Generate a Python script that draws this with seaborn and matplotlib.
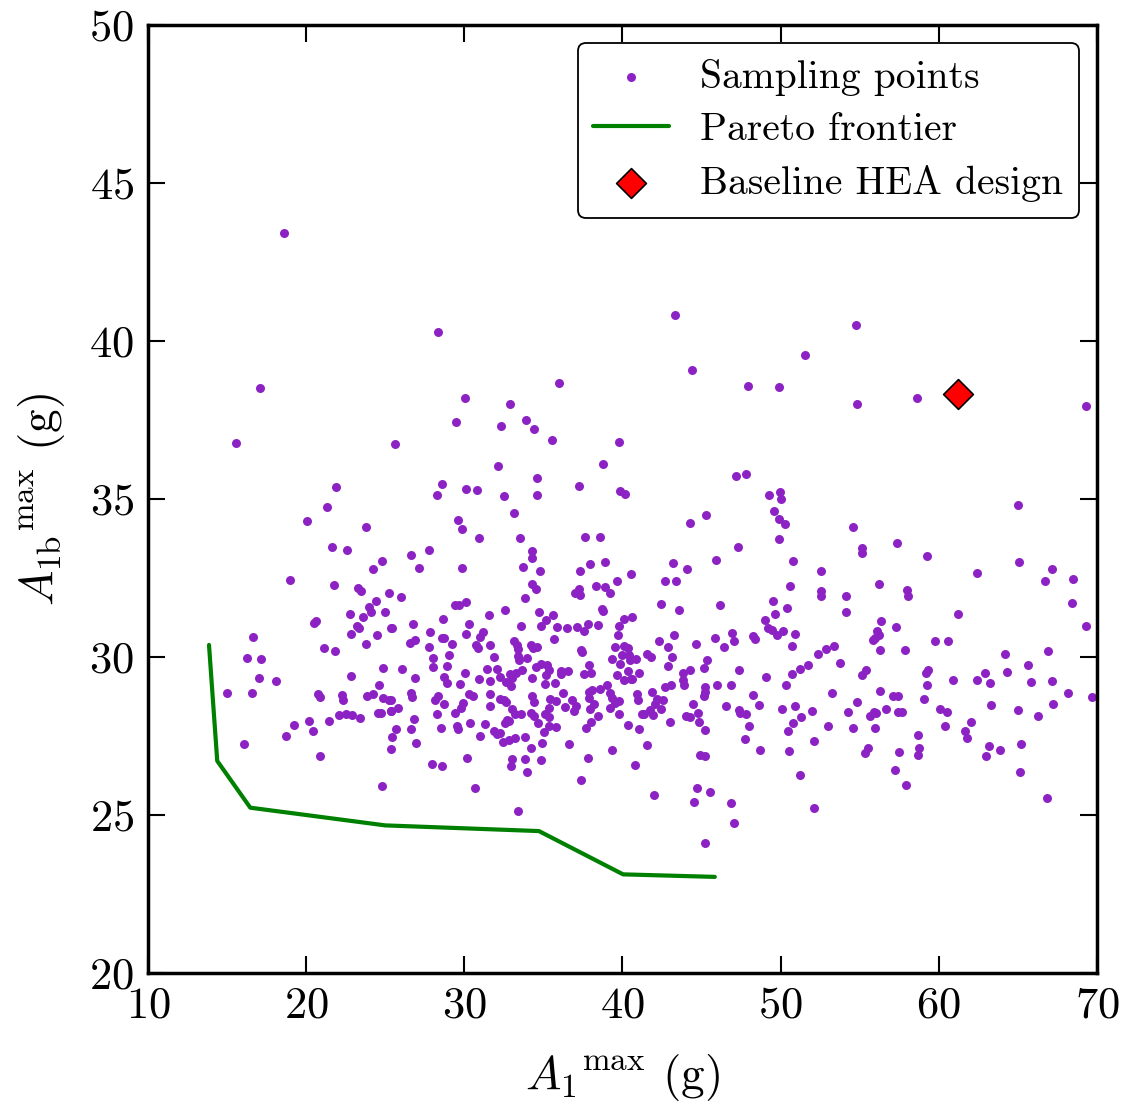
import numpy as np
import matplotlib
matplotlib.use("Agg")
import matplotlib.pyplot as plt
import seaborn as sns

sample_points = [
    (18.6, 43.42), (28.33, 40.28), (43.31, 40.82), (54.75, 40.5), (51.53, 39.56), (44.39, 39.08),
    (17.08, 38.5), (35.98, 38.67), (47.93, 38.58), (49.89, 38.54), (30.04, 38.2), (58.6, 38.2),
    (69.29, 37.94), (54.82, 38.0), (32.88, 38.0),
    (15.56, 36.76), (21.86, 35.38), (21.34, 34.75), (20.03, 34.29), (23.8, 34.12), (21.61, 33.47),
    (22.56, 33.39), (24.79, 33.05), (24.2, 32.77), (18.98, 32.45), (21.74, 32.27), (23.27, 32.18), (23.5, 32.1),
    (29.5, 37.44), (32.33, 37.31), (33.9, 37.5), (34.42, 37.2), (35.56, 36.88), (39.77, 36.81), (25.61, 36.73),
    (32.12, 36.03), (38.74, 36.1), (34.6, 35.66), (28.56, 35.46), (28.27, 35.11), (30.08, 35.3), (30.82, 35.27),
    (32.52, 35.1), (34.58, 35.13), (37.26, 35.41), (39.87, 35.26), (40.19, 35.17), (33.17, 34.55), (29.61, 34.34),
    (29.87, 34.06), (30.96, 33.75), (33.55, 33.78), (37.66, 33.81), (38.59, 33.81), (27.74, 33.4), (26.65, 33.23),
    (27.13, 32.8), (29.87, 32.8), (34.3, 33.36), (34.27, 33.14), (33.74, 32.86), (34.81, 32.73), (34.3, 32.32),
    (34.53, 32.15), (37.32, 32.72), (37.94, 32.94), (38.91, 33.02), (40.55, 32.64), (39.65, 32.39), (38.32, 32.26),
    (38.89, 32.22), (37.26, 32.15),
    (47.19, 35.72), (47.8, 35.78), (49.29, 35.14), (49.95, 35.22), (50.0, 34.99), (49.59, 34.62), (49.9, 34.38),
    (50.25, 34.21), (49.9, 33.74), (44.28, 34.23), (45.29, 34.5), (47.31, 33.47), (45.94, 33.07), (43.19, 32.98),
    (44.05, 32.77), (42.66, 32.41), (43.37, 32.39), (50.77, 33.03), (50.62, 32.23), (52.58, 32.73), (52.58, 32.1),
    (54.6, 34.1), (55.15, 33.44), (55.13, 33.28),
    (65.01, 34.81), (57.34, 33.6), (59.26, 33.21), (62.42, 32.67), (65.07, 32.99), (67.14, 32.77), (66.72, 32.39),
    (68.49, 32.46), (56.25, 32.32), (57.98, 32.12),
    (25.21, 32.01), (24.41, 31.77), (23.95, 31.58), (24.1, 31.41), (24.98, 31.41), (22.79, 31.35), (23.59, 31.26),
    (20.47, 31.09), (20.64, 31.15), (23.23, 30.98), (23.34, 30.91), (25.36, 30.91), (22.83, 30.74), (24.48, 30.68),
    (16.64, 30.64), (23.76, 30.41), (21.1, 30.28), (21.84, 30.18), (16.24, 29.97), (17.14, 29.93), (24.83, 29.65),
    (17.04, 29.34), (18.09, 29.24), (22.83, 29.39), (24.6, 29.1), (14.97, 28.85), (16.55, 28.87), (20.76, 28.83),
    (20.85, 28.73), (22.26, 28.81), (22.31, 28.64), (23.88, 28.78), (24.24, 28.83), (24.83, 28.7), (25.27, 28.63),
    (22.11, 28.15), (22.49, 28.19), (22.9, 28.15), (23.42, 28.07), (24.54, 28.22), (24.71, 28.22), (25.36, 28.29),
    (20.2, 27.98), (21.44, 27.96), (19.21, 27.85),
    (18.7, 27.5), (20.43, 27.65), (16.05, 27.25), (20.85, 26.87), (24.81, 25.93), (25.44, 27.46), (25.36, 27.08),
    (25.66, 27.72), (26.65, 27.71), (26.92, 27.29), (28.5, 27.75), (29.53, 27.82), (29.61, 27.73), (30.33, 27.91),
    (31.34, 27.88), (31.0, 27.51), (31.89, 27.67), (32.06, 27.55), (32.27, 27.6), (32.59, 27.9), (32.84, 27.98),
    (32.46, 27.32), (32.82, 27.36), (33.22, 27.43), (33.83, 27.47), (34.63, 27.91), (35.36, 27.82), (35.77, 27.78),
    (35.04, 27.63), (34.9, 27.29), (34.21, 27.11), (30.18, 26.8), (27.99, 26.62), (28.56, 26.55), (33.04, 26.77),
    (32.98, 26.55), (33.87, 26.78), (33.97, 26.37), (34.88, 26.75), (30.69, 25.84), (33.4, 25.12), (36.65, 27.26),
    (37.72, 27.74), (38.04, 27.95), (37.83, 26.8), (37.41, 26.11), (39.31, 27.07), (40.38, 27.86), (40.78, 26.58),
    (41.03, 27.72), (43.0, 27.93), (44.87, 27.94), (45.19, 27.68), (41.56, 27.2), (44.89, 26.89), (45.25, 26.87),
    (44.7, 25.85), (45.54, 25.72), (44.53, 25.4), (46.89, 25.39), (47.06, 24.74), (45.19, 24.1), (41.98, 25.62),
    (47.99, 27.83), (47.74, 27.39), (48.71, 27.06), (50.49, 27.65), (50.81, 27.91), (50.53, 27.03), (52.13, 27.34),
    (51.23, 26.25), (52.11, 25.23), (53.02, 27.82), (54.56, 27.75), (55.51, 27.11), (55.34, 26.96), (55.95, 27.75),
    (57.47, 26.98), (58.71, 27.52), (58.75, 27.13), (58.71, 26.9), (57.24, 26.41), (57.91, 25.94), (60.38, 27.82),
    (62.04, 27.93), (61.66, 27.66), (61.77, 27.45), (63.17, 27.18), (62.97, 26.85), (63.88, 27.06), (65.2, 27.26),
    (65.16, 26.35), (66.87, 25.53),
    (26.02, 31.9), (37.01, 32.02), (37.29, 31.96), (39.23, 32.02), (33.81, 31.86), (29.41, 31.64), (29.66, 31.63),
    (30.1, 31.75), (32.57, 31.5), (28.67, 31.21), (31.58, 31.33), (34.7, 31.43), (35.18, 31.16), (35.58, 31.33),
    (38.72, 31.52), (38.76, 31.45), (40.07, 31.21), (40.58, 31.28), (26.77, 31.03), (25.45, 30.91), (30.27, 31.04),
    (33.58, 30.98), (34.82, 30.97), (35.88, 30.96), (36.51, 30.91), (37.14, 30.96), (37.81, 31.04), (37.58, 30.82),
    (38.45, 31.01), (39.8, 30.99), (27.83, 30.79), (28.57, 30.61), (28.73, 30.59), (30.08, 30.72), (31.01, 30.62),
    (31.16, 30.79), (26.56, 30.43), (26.88, 30.53), (29.2, 30.4), (27.76, 30.31), (30.75, 30.37), (30.84, 30.27),
    (31.62, 30.37), (33.14, 30.52), (33.31, 30.38), (33.39, 30.24), (34.23, 30.38), (34.36, 30.27), (34.57, 30.32),
    (35.69, 30.57), (37.35, 30.22), (37.46, 30.17), (39.73, 30.7), (39.54, 30.31), (40.11, 30.34), (40.34, 30.27),
    (28.04, 29.98), (29.03, 30.07), (31.87, 30.01), (33.41, 30.03), (33.43, 29.9), (33.94, 29.96), (39.37, 29.94),
    (39.96, 30.05), (40.39, 30.07), (40.45, 29.9), (26.08, 29.63), (28.02, 29.67), (28.88, 29.72), (31.41, 29.61),
    (32.04, 29.62), (34.53, 29.68), (34.88, 29.79), (35.26, 29.73), (37.88, 29.75), (39.82, 29.78), (28.71, 29.37),
    (28.9, 29.19), (30.02, 29.48), (30.9, 29.3), (31.62, 29.23), (32.25, 29.37), (32.91, 29.46), (33.03, 29.33),
    (33.3, 29.5), (33.62, 29.58), (32.63, 29.22), (32.93, 29.08), (34.3, 29.33), (35.16, 29.44), (35.37, 29.59),
    (35.12, 29.14), (35.73, 29.19), (36.09, 29.57), (36.13, 29.46), (36.55, 29.54), (37.54, 29.45), (38.03, 29.5),
    (39.63, 29.43), (40.32, 29.54), (40.11, 29.27), (40.55, 29.29), (26.9, 29.35), (29.74, 29.14), (39.0, 29.12),
    (26.6, 28.85), (26.71, 28.72), (28.31, 28.78), (28.16, 28.63), (28.71, 28.5), (30.29, 28.82), (30.54, 28.78),
    (29.93, 28.54), (31.62, 28.83), (31.62, 28.45), (32.27, 28.68), (32.52, 28.64), (32.61, 28.57), (34.3, 28.77),
    (34.4, 28.56), (35.41, 28.68), (35.77, 28.62), (36.23, 28.86), (36.78, 28.65), (37.86, 28.9), (38.05, 28.94),
    (38.55, 28.98), (37.86, 28.71), (38.19, 28.52), (37.06, 28.46), (39.23, 28.87), (39.37, 28.69), (39.5, 28.55),
    (39.8, 28.61), (39.23, 28.38), (39.8, 28.21), (25.38, 28.64), (25.82, 28.38), (25.34, 28.3), (26.8, 28.05),
    (28.25, 28.18), (29.41, 28.22), (29.81, 28.37), (33.03, 28.34), (32.71, 28.02), (33.2, 28.18), (33.58, 28.18),
    (34.23, 28.22), (34.38, 28.13), (35.35, 28.38), (35.12, 28.21), (35.33, 28.09), (36.34, 28.42), (36.95, 28.28),
    (37.92, 28.34), (38.45, 28.12),
    (52.54, 31.92), (54.16, 31.94), (54.12, 31.41), (42.45, 31.67), (43.57, 31.48), (46.16, 31.65), (49.53, 31.76),
    (50.43, 31.56), (49.63, 31.35), (48.99, 31.16), (43.25, 30.69), (42.28, 30.49), (42.85, 30.3), (44.68, 30.42),
    (45.88, 30.59), (46.43, 30.3), (46.92, 30.76), (47.06, 30.5), (48.24, 30.67), (48.41, 30.58), (49.23, 30.93),
    (49.44, 30.84), (49.8, 30.71), (50.18, 30.81), (50.88, 30.73), (50.69, 30.34), (40.87, 29.94), (41.56, 30.09),
    (41.8, 30.0), (43.12, 29.99), (42.89, 29.71), (45.36, 29.9), (45.17, 29.65), (41.04, 29.5), (40.62, 29.29),
    (43.84, 29.5), (44.26, 29.59), (43.8, 29.27), (43.88, 29.11), (47.4, 29.58), (49.09, 29.36), (50.71, 29.45),
    (51.24, 29.61), (51.74, 29.74), (52.37, 30.09), (52.86, 30.24), (53.36, 30.34), (53.74, 29.82), (55.15, 29.43),
    (55.41, 29.58), (50.31, 29.12), (42.72, 29.04), (43.1, 29.11), (45.95, 29.1), (46.87, 29.12), (45.19, 29.04),
    (45.21, 28.9), (45.17, 28.76), (40.95, 28.82), (40.97, 28.63), (41.86, 28.88), (42.17, 28.67), (42.55, 28.63),
    (42.07, 28.5), (42.43, 28.34), (44.45, 28.5), (41.73, 28.32), (41.23, 28.21), (41.37, 28.21), (41.94, 28.17),
    (43.99, 28.12), (44.26, 28.1), (44.77, 28.22), (46.54, 28.45), (48.28, 28.81), (48.62, 28.47), (47.38, 28.33),
    (47.46, 28.22), (47.8, 28.19), (50.08, 28.34), (50.88, 28.46), (51.32, 28.11), (52.0, 28.28), (53.26, 28.86),
    (54.84, 28.59), (54.23, 28.26), (55.62, 28.14), (55.95, 30.59), (55.91, 28.27),
    (58.08, 31.94), (68.43, 31.7), (69.29, 30.98), (61.22, 31.36), (56.34, 31.14), (57.28, 30.95), (56.12, 30.83),
    (56.19, 30.7), (55.85, 30.55), (56.29, 30.23), (57.85, 30.22), (59.77, 30.51), (60.61, 30.51), (64.17, 30.09),
    (66.91, 30.2), (65.67, 29.73), (59.31, 29.59), (59.22, 29.5), (59.26, 29.11), (60.89, 29.27), (62.42, 29.26),
    (62.91, 29.5), (63.23, 29.17), (64.34, 29.51), (65.84, 29.22), (67.14, 29.24), (68.18, 28.85), (69.67, 28.74),
    (56.27, 28.93), (57.11, 28.77), (57.41, 28.77), (59.07, 28.68), (56.65, 28.35), (56.04, 28.22), (57.45, 28.25),
    (57.68, 28.25), (60.09, 28.35), (60.53, 28.27), (63.33, 28.47), (65.04, 28.32), (66.3, 28.14), (67.23, 28.51),
]

pareto_x = [13.86, 14.38, 16.47, 25.0, 34.72, 40.04, 45.84]
pareto_y = [30.38, 26.71, 25.23, 24.67, 24.49, 23.12, 23.04]

baseline_x = [61.2]
baseline_y = [38.32]

sns.set_style("ticks", rc={'axes.edgecolor': 'black', 'xtick.color': 'black', 'ytick.color': 'black',
                           'text.color': 'black', 'axes.labelcolor': 'black'})
plt.rcParams['font.family'] = ['cmr10']
plt.rcParams['mathtext.fontset'] = 'cm'
plt.rcParams['axes.formatter.use_mathtext'] = True

sx, sy = np.array(sample_points).T

fig = plt.figure(figsize=(11.26, 11.06), dpi=100)
ax = fig.add_axes([0.1314, 0.1203, 0.8428, 0.8571])

sns.scatterplot(x=sx, y=sy, color='#8c22c4', s=42, linewidth=0, ax=ax, label='Sampling points')
sns.lineplot(x=pareto_x, y=pareto_y, sort=False, color='green', lw=3, ax=ax, label='Pareto frontier')
sns.scatterplot(x=baseline_x, y=baseline_y, marker='D', color='red', edgecolor='black', linewidth=1.2,
                s=230, ax=ax, label='Baseline HEA design', zorder=5)

ax.set_xlim(10, 70)
ax.set_ylim(20, 50)
ax.set_xticks(range(10, 71, 10))
ax.set_yticks(range(20, 51, 5))
ax.tick_params(direction='in', length=12, width=1.5, top=True, right=True, labelsize=32, pad=10,
               colors='black')
for sp in ax.spines.values():
    sp.set_linewidth(2.5)
    sp.set_color('black')

ax.set_xlabel(r'$A_1{}^{\mathrm{max}}$ (g)', fontsize=34, labelpad=18)
ax.set_ylabel(r'$A_{1\mathrm{b}}{}^{\mathrm{max}}$ (g)', fontsize=34, labelpad=16)

leg = ax.legend(loc='upper right', fontsize=28.5, frameon=True, fancybox=True, framealpha=1,
                edgecolor='black', scatterpoints=1, handlelength=1.9, borderpad=0.4,
                labelspacing=0.42, borderaxespad=0.45)
leg.get_frame().set_linewidth(1.3)

fig.savefig('out.png', dpi=100)
